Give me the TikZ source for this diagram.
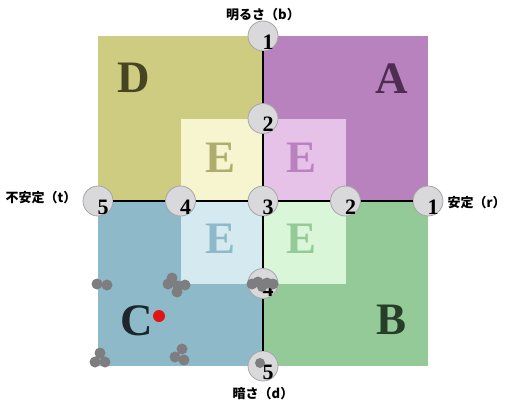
\documentclass[tikz,border=0pt]{standalone}
\usepackage{fontspec}
\setmainfont{Liberation Serif}
\newfontfamily\jp{Noto Sans CJK JP}
\usetikzlibrary{calc}
\definecolor{quadA}{RGB}{184,130,190}
\definecolor{quadB}{RGB}{148,202,152}
\definecolor{quadC}{RGB}{142,185,201}
\definecolor{quadD}{RGB}{205,204,128}
\definecolor{innA}{RGB}{230,194,232}
\definecolor{innB}{RGB}{218,246,216}
\definecolor{innC}{RGB}{212,233,240}
\definecolor{innD}{RGB}{246,245,208}
\definecolor{txtA}{RGB}{78,45,82}
\definecolor{txtB}{RGB}{38,62,40}
\definecolor{txtC}{RGB}{30,38,42}
\definecolor{txtD}{RGB}{70,68,35}
\definecolor{ballgray}{RGB}{217,217,219}
\definecolor{balledge}{RGB}{165,165,168}
\definecolor{blobgray}{RGB}{126,126,128}
\definecolor{dotred}{RGB}{226,20,20}
\begin{document}
\begin{tikzpicture}[x=1pt,y=-1pt, line join=round, line cap=round,
	ball/.style={circle,fill=ballgray,draw=balledge,line width=0.8pt,minimum size=30pt,inner sep=0pt},
	num/.style={inner sep=0pt,font=\bfseries\fontsize{22}{22}\selectfont},
	big/.style={inner sep=0pt,font=\bfseries\fontsize{45}{45}\selectfont},
	axislabel/.style={font=\jp\bfseries\fontsize{13}{13}\selectfont},
	axisline/.style={line width=2.6pt,line cap=butt}]
	\def\cx{263} \def\cy{201} \def\R{165} \def\r{82.5} % centre, half sides
	\useasboundingbox (0,0) rectangle (508,401);
	\fill[white] (0,0) rectangle (508,401);
	% quadrants
	\fill[quadD] (\cx-\R,\cy-\R) rectangle (\cx,\cy);
	\fill[quadA] (\cx,\cy-\R) rectangle (\cx+\R,\cy);
	\fill[quadC] (\cx-\R,\cy) rectangle (\cx,\cy+\R);
	\fill[quadB] (\cx,\cy) rectangle (\cx+\R,\cy+\R);
	% inner squares
	\fill[innD] (\cx-\r,\cy-\r) rectangle (\cx,\cy);
	\fill[innA] (\cx,\cy-\r) rectangle (\cx+\r,\cy);
	\fill[innC] (\cx-\r,\cy) rectangle (\cx,\cy+\r);
	\fill[innB] (\cx,\cy) rectangle (\cx+\r,\cy+\r);
	\node[big,txtD] (D) at (134,78) {D};
	\node[big,txtA] (A) at (392,79) {A};
	\node[big,txtC] (C) at (137,321) {C};
	\node[big,txtB] (B) at (392,320) {B};
	\node[big,quadD!85!black] (eD) at (221,158) {E};
	\node[big,quadA] (eA) at (302,158) {E};
	\node[big,quadC] (eC) at (221,239) {E};
	\node[big,quadB] (eB) at (302,239) {E};
	% circles on the axes
	\foreach \n/\i/\j/\t in {b1/0/-2/1, b2/0/-1/2, c3/0/0/3, d4/0/1/4, d5/0/2/5, t5/-2/0/5, t4/-1/0/4, r2/1/0/2, r1/2/0/1}{
		\node[ball] (\n) at (\cx+\i*\r,\cy+\j*\r) {};
		\node[num] (n-\n) at ([shift={(5,6)}]\n) {\t};
	}
	\foreach \p/\q in {b1/b2,b2/c3,c3/d4,d4/d5,t5/t4,t4/c3,c3/r2,r2/r1}
		\draw[axisline] (\p) -- (\q);
	\node[axislabel] (lb) at (263,15) {明るさ（b）};
	\node[axislabel,anchor=east] (lt) at (80,198) {不安定（t）};
	\node[axislabel,anchor=west] (lr) at (444,203) {安定（r）};
	\node[axislabel] (ld) at (263,394) {暗さ（d）};
	% gray dots
	\fill[blobgray] (97,284) circle (5.5) (107,285) circle (5.5);
	\fill[blobgray] (172,278) circle (5.5) (168,284) circle (5.5) (178,286) circle (5.5) (185,285) circle (5.5) (177,292) circle (5.5);
	\fill[blobgray] (100,353) circle (5.5) (95,362) circle (5.5) (105,362) circle (5.5);
	\fill[blobgray] (182,349) circle (5.5) (175,357) circle (5.5) (184,360) circle (5.5);
	\fill[blobgray] (252,284) circle (5.5) (258,282) circle (5.5) (267,283) circle (5.5) (273,284) circle (5.5) (262,287) circle (5);
	\fill[blobgray] (260,363) circle (5);
	\fill[dotred] (159,316) circle (6);
\end{tikzpicture}
\end{document}
